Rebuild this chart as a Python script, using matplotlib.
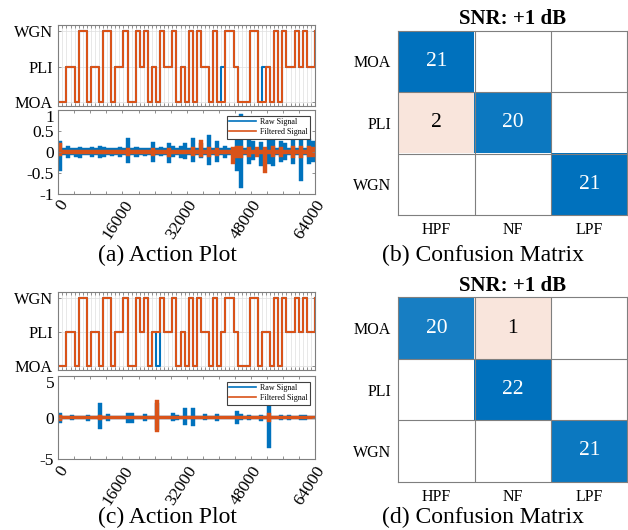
import numpy as np
import matplotlib.pyplot as plt
from matplotlib.lines import Line2D

plt.rcParams['font.family'] = ['Liberation Serif', 'DejaVu Serif']

BLUE = '#0072BD'
ORANGE = '#D95319'
FRAME = '#7f7f7f'

# 64 test actions, 1000 samples each (M = MOA, P = PLI, W = WGN)
SEG_LEN = 1000
true_seq = "MMPPMWWMPP" "MWWMPPWMMW" "PWMPMWPPWM" "PMWMWPPMWM" "PWWPMMMWWM" "PPMWMWPPWP" "WPPW"
names = {'M': 'MOA', 'P': 'PLI', 'W': 'WGN'}
true_labels = [names[c] for c in true_seq]
# wrong choices of the agent: segment -> label the chosen filter belongs to
wrong_a = {40: 'MOA', 50: 'MOA'}
wrong_c = {24: 'PLI'}
level = {'MOA': 1, 'PLI': 2, 'WGN': 3}
ylevels = ['MOA', 'PLI', 'WGN']

# signal envelopes per segment: base amplitude + bursts
raw_base_a = 0.08
raw_seg_a = [0, 2, 4, 5, 8, 10, 11, 13, 15, 17, 19, 21, 23, 25, 27, 28, 30, 31, 33, 35,
             37, 39, 41, 44, 45, 47, 48, 50, 52, 53, 55, 56, 58, 60, 62, 63]
raw_hi_a = [0.25, 0.15, 0.10, 0.12, 0.12, 0.15, 0.12, 0.10, 0.12, 0.32, 0.12, 0.10, 0.24, 0.12,
            0.20, 0.15, 0.15, 0.22, 0.32, 0.20, 0.40, 0.25, 0.15, 0.35, 0.90, 0.30, 0.25, 0.24,
            0.30, 0.40, 0.25, 0.20, 0.35, 0.75, 0.30, 0.25]
raw_lo_a = [-0.45, -0.15, -0.12, -0.15, -0.12, -0.15, -0.12, -0.10, -0.12, -0.28, -0.12, -0.10,
            -0.24, -0.10, -0.28, -0.12, -0.15, -0.18, -0.24, -0.15, -0.32, -0.25, -0.15, -0.45,
            -0.88, -0.30, -0.20, -0.35, -0.30, -0.35, -0.25, -0.20, -0.30, -0.70, -0.30, -0.25]
flt_base_a = 0.05
flt_seg_a = [0, 17, 23, 27, 33, 35, 37, 39, 43, 44, 45, 47, 49, 51, 53, 55, 58, 60, 62, 63]
flt_hi_a = [0.22, 0.10, 0.10, 0.10, 0.12, 0.28, 0.12, 0.10, 0.12, 0.15, 0.15, 0.12, 0.12, 0.12,
            0.15, 0.12, 0.15, 0.15, 0.15, 0.12]
flt_lo_a = [-0.10, -0.10, -0.10, -0.12, -0.10, -0.12, -0.12, -0.10, -0.30, -0.15, -0.15, -0.12,
            -0.12, -0.50, -0.12, -0.12, -0.15, -0.15, -0.12, -0.12]

raw_base_c = 0.15
raw_seg_c = [0, 3, 7, 10, 12, 17, 18, 21, 24, 28, 29, 31, 33, 36, 39, 44, 45, 47, 50, 52, 55, 57, 60, 61]
raw_hi_c = [0.6, 0.3, 0.35, 1.7, 0.4, 0.6, 0.5, 0.4, 1.8, 0.5, 0.3, 1.2, 1.1, 0.4, 0.4, 0.85,
            0.4, 0.35, 0.35, 2.0, 0.35, 0.3, 0.35, 0.3]
raw_lo_c = [-0.6, -0.3, -0.35, -1.4, -0.4, -0.6, -0.6, -0.4, -1.5, -0.4, -0.3, -0.9, -1.0, -0.3,
            -0.35, -0.75, -0.3, -0.3, -0.35, -3.6, -0.3, -0.25, -0.3, -0.3]
flt_base_c = 0.2
flt_seg_c = [0, 10, 24, 52]
flt_hi_c = [0.35, 0.3, 2.1, 0.5]
flt_lo_c = [-0.35, -0.3, -1.7, -0.5]

# confusion matrices (rows: true noise, cols: chosen filter)
cm_rows = ['MOA', 'PLI', 'WGN']
cm_cols = ['HPF', 'NF', 'LPF']
cm_b = [[21, 0, 0], [2, 20, 0], [0, 0, 21]]
cm_d = [[20, 1, 0], [0, 22, 0], [0, 0, 21]]
snr_title = 'SNR: +1 dB'


def envelope(base, segs, hi, lo):
    up = np.full(len(true_labels), base)
    dn = np.full(len(true_labels), -base)
    up[segs] = hi
    dn[segs] = lo
    return np.append(up, up[-1]), np.append(dn, dn[-1])


def style(ax):
    for sp in ax.spines.values():
        sp.set_color(FRAME)
        sp.set_linewidth(0.8)
    ax.tick_params(direction='in', color=FRAME, width=0.6, length=2.5,
                   top=True, right=True, labelcolor='black')


def action_plot(top_rect, bot_rect, wrong, raw, flt, ylim, yticks, ytlabels):
    n = len(true_labels)
    pred = [wrong.get(i, lab) for i, lab in enumerate(true_labels)]
    x = np.arange(n)

    ax1 = fig.add_axes(top_rect)
    ax1.step(x, [level[v] for v in true_labels], where='post', color=BLUE, lw=1.5)
    ax1.step(x, [level[v] for v in pred], where='post', color=ORANGE, lw=1.5)
    ax1.set_xlim(0, n - 1)
    ax1.set_ylim(0.88, 3.18)
    ax1.set_xticks(x)
    ax1.set_yticks([level[v] for v in ylevels])
    ax1.set_yticklabels(ylevels, fontsize=11.8)
    ax1.grid(True, color='#dedede', lw=0.5)
    ax1.set_axisbelow(True)
    style(ax1)
    ax1.tick_params(axis='x', labelbottom=False, length=2)
    ax1.tick_params(axis='y', pad=4)

    ax2 = fig.add_axes(bot_rect)
    edges = np.arange(n + 1) * SEG_LEN
    ax2.fill_between(edges, raw[1], raw[0], step='post', color=BLUE, lw=0.3)
    ax2.fill_between(edges, flt[1], flt[0], step='post', color=ORANGE, lw=0.3)
    ax2.set_xlim(0, n * SEG_LEN)
    ax2.set_ylim(*ylim)
    ax2.set_yticks(yticks)
    ax2.set_yticklabels(ytlabels, fontsize=12.5)
    ax2.get_yticklabels()[-1].set_va('top')
    xt = np.arange(0, n * SEG_LEN + 1, 4000)
    ax2.set_xticks(xt)
    ax2.set_xticklabels([str(v) if v % 16000 == 0 else '' for v in xt], fontsize=12.5)
    style(ax2)
    ax2.tick_params(axis='y', pad=3)
    ax2.tick_params(axis='x', pad=3)
    for lab in ax2.get_xticklabels():
        lab.set_rotation(57)
        lab.set_ha('right')
        lab.set_va('top')
        lab.set_rotation_mode('anchor')
    handles = [Line2D([], [], color=BLUE, lw=1.2), Line2D([], [], color=ORANGE, lw=1.2)]
    leg = ax2.legend(handles, ['Raw Signal', 'Filtered Signal'], loc='upper right',
                     bbox_to_anchor=(0.98, 0.93), borderaxespad=0, fontsize=5.8,
                     handlelength=3.3, handletextpad=0.5, labelspacing=0.25,
                     borderpad=0.3, fancybox=False, framealpha=1)
    leg.get_frame().set_edgecolor('#404040')
    leg.get_frame().set_linewidth(0.8)


def confusion(rect, cm, title_y):
    cm = np.array(cm)
    ax = fig.add_axes(rect)
    blue = np.array([0, 114, 189]) / 255
    peach = np.array([217, 83, 25]) / 255
    off = cm - np.diag(np.diag(cm))
    rgb = np.ones(cm.shape + (3,))
    for i in range(3):
        for j in range(3):
            v = cm[i, j]
            if v == 0:
                continue
            if i == j:
                f = v / cm.max()
                rgb[i, j] = 1 - f * (1 - blue)
            else:
                g = 0.15 * v / off.max()
                rgb[i, j] = 1 - g * (1 - peach)
            ax.text(j, i, str(v), ha='center', va='center', fontsize=15.5,
                    color='white' if i == j else 'black')
    ax.imshow(rgb, aspect='auto', interpolation='nearest')
    for k in (0.5, 1.5):
        ax.axhline(k, color=FRAME, lw=0.8)
        ax.axvline(k, color=FRAME, lw=0.8)
    ax.set_xticks(range(3))
    ax.set_xticklabels(cm_cols, fontsize=11.5)
    ax.set_yticks(range(3))
    ax.set_yticklabels(cm_rows, fontsize=11.5)
    for sp in ax.spines.values():
        sp.set_color(FRAME)
        sp.set_linewidth(0.8)
    ax.tick_params(length=0, pad=5)
    fig.text(0.816, title_y, snr_title, ha='center', va='center', fontsize=15,
             fontweight='bold')


fig = plt.figure(figsize=(6.28, 5.30), dpi=100)

action_plot([0.0928, 0.8000, 0.4088, 0.1528], [0.0928, 0.6349, 0.4088, 0.1575], wrong_a,
            envelope(raw_base_a, raw_seg_a, raw_hi_a, raw_lo_a),
            envelope(flt_base_a, flt_seg_a, flt_hi_a, flt_lo_a),
            (-1, 1), [-1, -0.5, 0, 0.5, 1], ['-1', '-0.5', '0', '0.5', '1'])
action_plot([0.0928, 0.3019, 0.4088, 0.1478], [0.0928, 0.1334, 0.4088, 0.1572], wrong_c,
            envelope(raw_base_c, raw_seg_c, raw_hi_c, raw_lo_c),
            envelope(flt_base_c, flt_seg_c, flt_hi_c, flt_lo_c),
            (-5, 5), [-5, 0, 5], ['-5', '0', '5'])

confusion([0.6342, 0.5943, 0.3650, 0.3478], cm_b, 0.9645)
confusion([0.6342, 0.0911, 0.3650, 0.3478], cm_d, 0.4613)

fig.text(0.266, 0.518, '(a) Action Plot', ha='center', va='center', fontsize=17)
fig.text(0.769, 0.518, '(b) Confusion Matrix', ha='center', va='center', fontsize=17)
fig.text(0.266, 0.024, '(c) Action Plot', ha='center', va='center', fontsize=17)
fig.text(0.769, 0.024, '(d) Confusion Matrix', ha='center', va='center', fontsize=17)

fig.savefig('out.png', dpi=100)
